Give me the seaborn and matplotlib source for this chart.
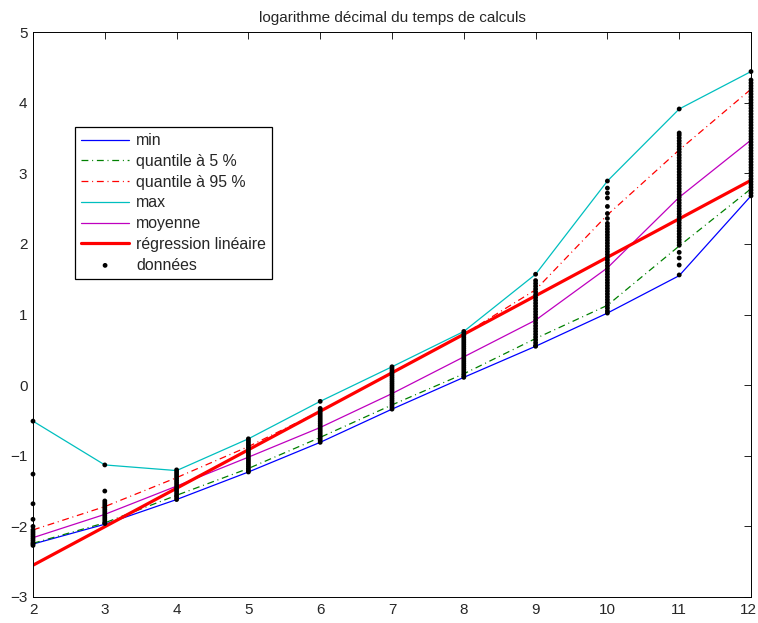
import matplotlib
matplotlib.use("Agg")
import matplotlib.pyplot as plt
import matplotlib.transforms as mtransforms
import seaborn as sns
import pandas as pd

# ---- data ----
x_vals = [2, 3, 4, 5, 6, 7, 8, 9, 10, 11, 12]
min_vals = [-2.25, -1.97, -1.62, -1.23, -0.81, -0.34, 0.11, 0.55, 1.02, 1.55, 2.68]
q05_vals = [-2.24, -1.95, -1.56, -1.18, -0.74, -0.28, 0.16, 0.66, 1.13, 1.97, 2.78]
q95_vals = [-2.05, -1.72, -1.31, -0.87, -0.37, 0.18, 0.72, 1.35, 2.41, 3.33, 4.19]
max_vals = [-0.51, -1.13, -1.21, -0.76, -0.23, 0.26, 0.76, 1.57, 2.89, 3.91, 4.44]
mean_vals = [-2.16, -1.83, -1.43, -1.02, -0.60, -0.12, 0.40, 0.92, 1.66, 2.66, 3.47]
reg_x = [2, 12]
reg_vals = [-2.55, 2.90]

data_x2 = [-0.51, -1.26, -1.68, -1.90, -2.00, -2.05, -2.08, -2.11, -2.14, -2.17,
           -2.20, -2.23, -2.25, -2.27]
data_x3 = [-1.13, -1.50, -1.64, -1.67, -1.70, -1.73, -1.76, -1.79, -1.82, -1.85,
           -1.88, -1.91, -1.94, -1.96]
data_x4 = [-1.20, -1.23, -1.26, -1.29, -1.32, -1.35, -1.38, -1.41, -1.44, -1.47,
           -1.50, -1.53, -1.56, -1.59, -1.62]
data_x5 = [-0.76, -0.79, -0.82, -0.85, -0.88, -0.91, -0.94, -0.97, -1.00, -1.03,
           -1.06, -1.09, -1.12, -1.15, -1.18, -1.21, -1.23]
data_x6 = [-0.23, -0.33, -0.36, -0.39, -0.42, -0.45, -0.48, -0.51, -0.54, -0.57,
           -0.60, -0.63, -0.66, -0.69, -0.72, -0.75, -0.78, -0.81]
data_x7 = [0.26, 0.23, 0.20, 0.17, 0.14, 0.11, 0.08, 0.05, 0.02, -0.01, -0.04,
           -0.07, -0.10, -0.13, -0.16, -0.19, -0.22, -0.25, -0.28, -0.31, -0.34]
data_x8 = [0.76, 0.73, 0.70, 0.67, 0.64, 0.61, 0.58, 0.55, 0.52, 0.49, 0.46, 0.43,
           0.40, 0.37, 0.34, 0.31, 0.28, 0.25, 0.22, 0.19, 0.16, 0.13, 0.11]
data_x9 = [1.57, 1.48, 1.44, 1.40, 1.36, 1.32, 1.28, 1.24, 1.20, 1.16, 1.12, 1.08,
           1.04, 1.00, 0.96, 0.92, 0.88, 0.84, 0.80, 0.76, 0.72, 0.68, 0.64, 0.60,
           0.56, 0.55]
data_x10 = [2.89, 2.79, 2.72, 2.65, 2.53, 2.43, 2.36, 2.29, 2.25, 2.21, 2.17, 2.13,
            2.09, 2.05, 2.01, 1.97, 1.93, 1.89, 1.85, 1.81, 1.77, 1.73, 1.69, 1.65,
            1.61, 1.57, 1.53, 1.49, 1.45, 1.41, 1.37, 1.33, 1.29, 1.25, 1.21, 1.17,
            1.13, 1.09, 1.05, 1.02]
data_x11 = [3.91, 3.57, 3.54, 3.50, 3.46, 3.42, 3.38, 3.34, 3.30, 3.26, 3.22, 3.18,
            3.14, 3.10, 3.06, 3.02, 2.98, 2.94, 2.90, 2.86, 2.82, 2.78, 2.74, 2.70,
            2.66, 2.62, 2.58, 2.54, 2.50, 2.46, 2.42, 2.38, 2.34, 2.30, 2.26, 2.22,
            2.18, 2.14, 2.10, 2.06, 2.02, 1.98, 1.88, 1.80, 1.70, 1.56]
data_x12 = [4.44, 4.32, 4.28, 4.24, 4.20, 4.16, 4.12, 4.08, 4.04, 4.00, 3.96, 3.92,
            3.88, 3.84, 3.80, 3.76, 3.72, 3.68, 3.64, 3.60, 3.56, 3.52, 3.48, 3.44,
            3.40, 3.36, 3.32, 3.28, 3.24, 3.20, 3.16, 3.12, 3.08, 3.04, 3.00, 2.96,
            2.92, 2.88, 2.84, 2.80, 2.76, 2.72, 2.68]

title_text = "logarithme décimal du temps de calculs"
x_ticks = [2, 3, 4, 5, 6, 7, 8, 9, 10, 11, 12]
y_ticks = [-3, -2, -1, 0, 1, 2, 3, 4, 5]

# ---- build tables ----
lines_df = pd.DataFrame({"x": x_vals, "min": min_vals, "q05": q05_vals,
                         "q95": q95_vals, "max": max_vals, "mean": mean_vals})
columns = [data_x2, data_x3, data_x4, data_x5, data_x6, data_x7, data_x8,
           data_x9, data_x10, data_x11, data_x12]
pts_x, pts_y = [], []
for xv, col in zip(x_vals, columns):
    pts_x += [xv] * len(col)
    pts_y += col
pts_df = pd.DataFrame({"x": pts_x, "y": pts_y})
reg_df = pd.DataFrame({"x": reg_x, "y": reg_vals})

sns.set_style("white")
plt.rcParams["font.family"] = ["Liberation Sans", "DejaVu Sans"]

fig = plt.figure(figsize=(7.58, 6.23), dpi=100)
ax = fig.add_axes([33 / 758, 1 - 597 / 623, 718 / 758, 565 / 623])

dashdot = (0, (5.5, 3, 0.8, 3))
sns.lineplot(data=lines_df, x="x", y="min", ax=ax, color=(0, 0, 1), lw=0.9,
             label="min")
sns.lineplot(data=lines_df, x="x", y="q05", ax=ax, color=(0, 0.5, 0), lw=0.9,
             linestyle=dashdot, label="quantile à 5 %")
sns.lineplot(data=lines_df, x="x", y="q95", ax=ax, color=(1, 0, 0), lw=0.9,
             linestyle=dashdot, label="quantile à 95 %")
sns.lineplot(data=lines_df, x="x", y="max", ax=ax, color=(0, 0.75, 0.75), lw=0.9,
             label="max")
sns.lineplot(data=lines_df, x="x", y="mean", ax=ax, color=(0.75, 0, 0.75), lw=0.9,
             label="moyenne")
sns.lineplot(data=reg_df, x="x", y="y", ax=ax, color=(1, 0, 0), lw=2.3,
             label="régression linéaire")
sns.scatterplot(data=pts_df, x="x", y="y", ax=ax, color="black", s=12,
                edgecolor="none", marker="o", label="données", zorder=5,
                clip_on=False)

ax.set_xlim(2, 12)
ax.set_ylim(-3, 5)
ax.set_xticks(x_ticks)
ax.set_yticks(y_ticks)
ax.set_xlabel("")
ax.set_ylabel("")
ax.set_title(title_text, fontsize=11, pad=7)
ax.tick_params(direction="in", top=True, right=True, length=5, width=0.6,
               labelsize=11, pad=4, color="black")
for sp in ax.spines.values():
    sp.set_visible(True)
    sp.set_color("black")
    sp.set_linewidth(0.7)

# keep the last x tick label inside the canvas
last_lbl = ax.get_xticklabels()[-1]
last_lbl.set_horizontalalignment("right")
last_lbl.set_transform(last_lbl.get_transform() +
                       mtransforms.ScaledTranslation(6 / 100, 0, fig.dpi_scale_trans))

leg = ax.legend(loc="upper left", bbox_to_anchor=((75 - 33) / 718, (597 - 127) / 565),
                borderaxespad=0, fontsize=11.4, frameon=True, fancybox=False,
                handlelength=3.0, handletextpad=0.45, labelspacing=0.36,
                borderpad=0.4, markerscale=1.0)
leg.get_frame().set_edgecolor("black")
leg.get_frame().set_linewidth(0.9)
leg.get_frame().set_alpha(1)

fig.savefig("out.png", dpi=100)
